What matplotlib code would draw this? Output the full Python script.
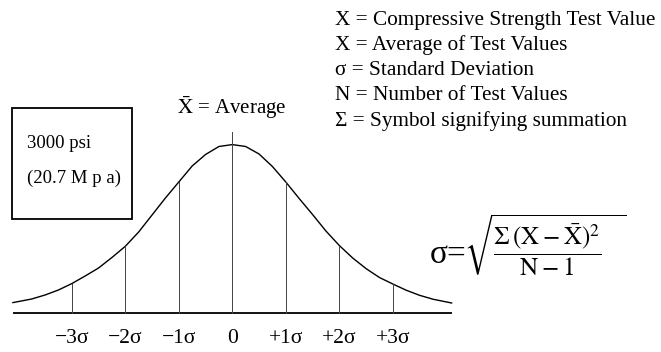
import numpy as np
import matplotlib
matplotlib.use('Agg')
import matplotlib.pyplot as plt
from matplotlib.patches import Rectangle

W, H = 661, 352

# bell curve: position in sigma units, height above the baseline (px)
curve_x = [-4.1, -3.75, -3.5, -3.25, -3.0, -2.75, -2.5, -2.25, -2.0, -1.75, -1.5,
           -1.25, -1.0, -0.75, -0.5, -0.25, 0.0, 0.25, 0.5, 0.75, 1.0, 1.25, 1.5,
           1.75, 2.0, 2.25, 2.5, 2.75, 3.0, 3.25, 3.5, 3.75, 4.1]
curve_h = [10.4, 14.0, 18.0, 23.0, 29.4, 37.0, 45.0, 55.5, 66.7, 81.0, 98.0,
           115.0, 131.0, 147.0, 158.5, 166.5, 168.4, 166.5, 159.0, 146.5, 131.0, 114.5, 98.5,
           82.0, 67.5, 55.0, 44.4, 35.5, 29.0, 22.8, 17.7, 13.8, 10.0]

sigma_pos = [-3, -2, -1, 0, 1, 2, 3]
sigma_labels = ['\u22123\u03c3', '\u22122\u03c3', '\u22121\u03c3', '0',
                '+1\u03c3', '+2\u03c3', '+3\u03c3']
mean_line_top = 181.0

legend_lines = ['X = Compressive Strength Test Value',
                'X = Average of Test Values',
                '\u03c3 = Standard Deviation',
                'N = Number of Test Values',
                '\u03a3 = Symbol signifying summation']
box_lines = ['3000 psi', '(20.7 M p a)']

plt.rcParams['font.family'] = ['Liberation Serif', 'DejaVu Serif']
plt.rcParams['mathtext.fontset'] = 'stix'

fig = plt.figure(figsize=(W / 100, H / 100), dpi=100)
ax = fig.add_axes([0, 0, 1, 1])
# one sigma is about 53.5 px, the mean sits at x = 232 px, baseline at y = 313 px
ax.set_xlim(-232.3 / 53.5, (W - 232.3) / 53.5)
ax.set_ylim(-(H - 313), 313)
ax.axis('off')


def fx(px):
    return px / W


def fy(py):
    return 1 - py / H


# baseline and curve
ax.plot([curve_x[0], curve_x[-1]], [0, 0], color='black', lw=1.3, solid_capstyle='butt')
ax.plot(curve_x, curve_h, color='black', lw=1.0)

# sigma lines
heights = dict(zip(curve_x, curve_h))
for s in sigma_pos:
    top = mean_line_top if s == 0 else heights[float(s)]
    ax.plot([s, s], [0, top], color='#444444', lw=0.7)

for s, lab in zip(sigma_pos, sigma_labels):
    ax.text(s, -30.3, lab, ha='center', va='baseline', fontsize=15.5)

# mean label
fig.text(fx(177), fy(114.5), r'$\bar{\mathrm{X}}$ = Average', ha='left', va='baseline', fontsize=15)

# strength box
fig.patches.append(Rectangle((fx(11.7), fy(219.3)), (131.7 - 11.7) / W, (219.3 - 108.3) / H,
                             transform=fig.transFigure, fill=False, edgecolor='black', lw=1.3))
fig.text(fx(27), fy(148.3), box_lines[0], ha='left', va='baseline', fontsize=13.5)
fig.text(fx(27), fy(183.3), box_lines[1], ha='left', va='baseline', fontsize=13.5)

# definitions
for i, line in enumerate(legend_lines):
    fig.text(fx(335), fy([25, 50, 75, 100, 126][i]), line, ha='left', va='baseline', fontsize=15.3)

# formula
fig.text(fx(430), fy(263.3), '\u03c3=', ha='left', va='baseline', fontsize=24)
fig.text(fx(464), fy(245), r'$\sqrt{\dfrac{\Sigma\,(\mathrm{X}-\bar{\mathrm{X}})^{2}}{\mathrm{N}-1}\quad}$',
         ha='left', va='center', fontsize=18)

fig.savefig('out.png', dpi=100)
